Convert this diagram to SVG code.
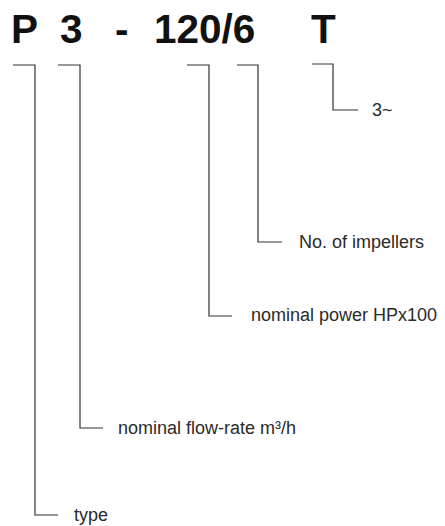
<svg xmlns="http://www.w3.org/2000/svg" width="445" height="526" viewBox="0 0 445 526">
<style>
.code{font-family:"Liberation Sans",Arial,sans-serif;font-weight:bold;font-size:40.5px;fill:#111}
.lbl{font-family:"Liberation Sans",Arial,sans-serif;font-size:18px;fill:#2a2a2a}
.ln{fill:none;stroke:#333;stroke-width:1.2}
</style>
<rect width="445" height="526" fill="#fff"/>
<g id="code">
<text class="code" x="11" y="43">P</text>
<text class="code" x="60" y="43">3</text>
<text class="code" x="115" y="43">-</text>
<text class="code" x="154" y="43">120/6</text>
<text class="code" x="311" y="43">T</text>
</g>
<g id="connectors">
<path class="ln" d="M13,65 H35 V515 H58"/>
<path class="ln" d="M58,65 H80 V428 H103"/>
<path class="ln" d="M187,65 H209 V316 H232"/>
<path class="ln" d="M237,65 H258 V242 H282"/>
<path class="ln" d="M312,64 H333 V110 H358"/>
</g>
<g id="type"><text class="lbl" x="74" y="521">type</text></g>
<g id="flow"><text class="lbl" x="118" y="434">nominal flow-rate m³/h</text></g>
<g id="power"><text class="lbl" x="251" y="321">nominal power HPx100</text></g>
<g id="impellers"><text class="lbl" x="299" y="248">No. of impellers</text></g>
<g id="phase"><text class="lbl" x="372" y="116">3~</text></g>
</svg>
